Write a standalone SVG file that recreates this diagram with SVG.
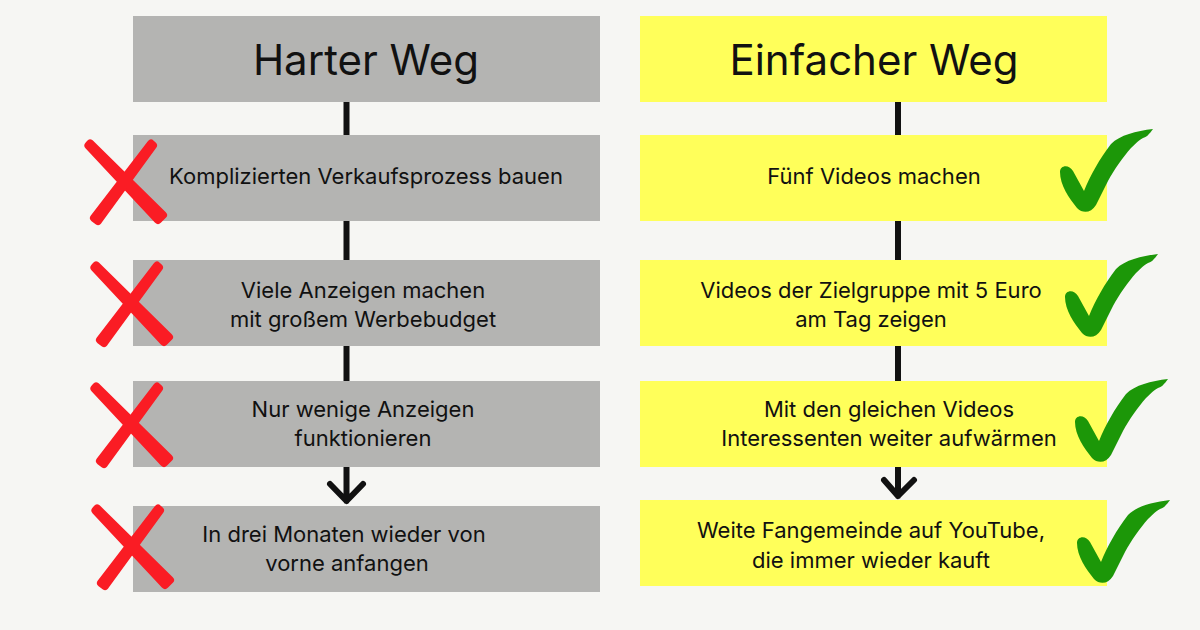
<svg xmlns="http://www.w3.org/2000/svg" width="1200" height="630" viewBox="0 0 1200 630">
<style>
.g{fill:#b4b4b2}.y{fill:#ffff5a}
text{font-family:Inter,"Noto Sans",sans-serif;fill:#111;text-anchor:middle;font-size:22px}
.h{font-size:42px}
.l{stroke:#111;stroke-width:6;fill:none}
.a{stroke:#111;stroke-width:6;fill:none;stroke-linecap:round;stroke-linejoin:round}
.xm{fill:#fa1c24;stroke:#fa1c24;stroke-width:8;stroke-linejoin:round}
</style>
<defs>
<g id="x"><path class="xm" d="M90.100 143.400L163 215L158 220L88.400 145.500Z"/><path class="xm" d="M153 145.400L151 143.600L94 218L98 221Z"/></g>
<path id="c" fill="#1c9708" d="M1060 172C1060 165 1069 164 1073 171L1084 191C1090 176 1100 158 1111 144C1120 135 1136 131 1153 129L1150 133C1148 134 1149 136 1143 138C1137 141 1135 145 1131 148C1123 157 1114 170 1108 181L1096 205C1091 213 1083 214 1077 208C1069 198 1060 185 1060 172Z"/>
</defs>
<rect width="1200" height="630" fill="#f6f6f3"/>
<g id="connectors">
<path class="l" d="M346.500 100V136M346.500 218V262M346.500 344V384M898 100V136M898 218V262M898 344V384"/>
<path class="a" d="M346.500 465V501M330 484L346.500 501L363 484M898 465V496M884 480L898 496L914 480"/>
</g>
<g id="hard-title"><rect class="g" x="133" y="16" width="467" height="86"/><text class="h" x="366" y="75">Harter Weg</text></g>
<g id="hard-1"><rect class="g" x="133" y="135" width="467" height="86"/><text x="366" y="184">Komplizierten Verkaufsprozess bauen</text><use href="#x"/></g>
<g id="hard-2"><rect class="g" x="133" y="260" width="467" height="86"/><text x="363" y="298">Viele Anzeigen machen</text><text x="363" y="327">mit großem Werbebudget</text><use href="#x" x="6" y="122"/></g>
<g id="hard-3"><rect class="g" x="133" y="381" width="467" height="86"/><text x="363" y="417">Nur wenige Anzeigen</text><text x="363" y="446">funktionieren</text><use href="#x" x="6" y="243"/></g>
<g id="hard-4"><rect class="g" x="133" y="506" width="467" height="86"/><text x="344" y="542">In drei Monaten wieder von</text><text x="347" y="571">vorne anfangen</text><use href="#x" x="7" y="365"/></g>
<g id="easy-title"><rect class="y" x="640" y="16" width="467" height="86"/><text class="h" x="874" y="75">Einfacher Weg</text></g>
<g id="easy-1"><rect class="y" x="640" y="135" width="467" height="86"/><text x="874" y="184">Fünf Videos machen</text><use href="#c"/></g>
<g id="easy-2"><rect class="y" x="640" y="260" width="467" height="86"/><text x="871" y="298">Videos der Zielgruppe mit 5 Euro</text><text x="871" y="327">am Tag zeigen</text><use href="#c" x="5" y="125"/></g>
<g id="easy-3"><rect class="y" x="640" y="381" width="467" height="86"/><text x="889" y="417">Mit den gleichen Videos</text><text x="889" y="446">Interessenten weiter aufwärmen</text><use href="#c" x="15" y="250"/></g>
<g id="easy-4"><rect class="y" x="640" y="500" width="467" height="86"/><text x="871" y="538">Weite Fangemeinde auf YouTube,</text><text x="871" y="568">die immer wieder kauft</text><use href="#c" x="17" y="371"/></g>
</svg>
